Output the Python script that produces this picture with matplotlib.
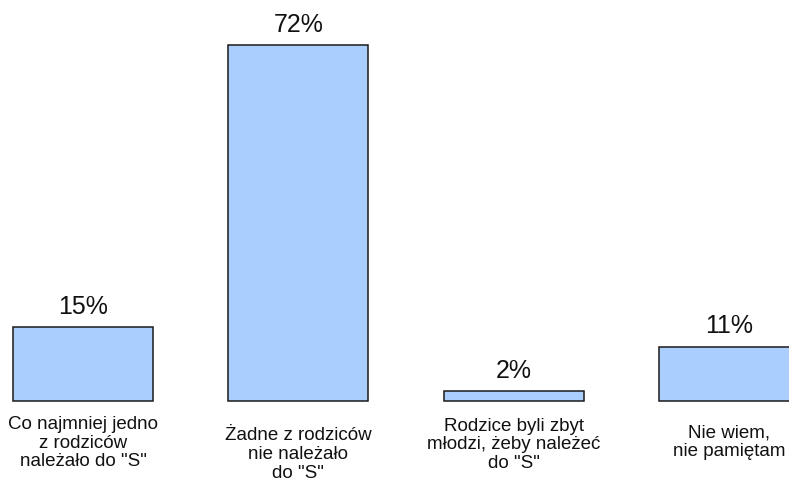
import numpy as np
import matplotlib.pyplot as plt
import matplotlib as mpl

mpl.rcParams["font.family"] = ["Liberation Sans", "DejaVu Sans"]

categories = ['Co najmniej jedno\nz rodziców\nnależało do "S"',
              'Żadne z rodziców\nnie należało\ndo "S"',
              'Rodzice byli zbyt\nmłodzi, żeby należeć\ndo "S"',
              'Nie wiem,\nnie pamiętam']
values = [15, 72, 2, 11]
value_labels = ['15%', '72%', '2%', '11%']

# vertical gap (points) between bar base and category label
label_pad = [11, 19, 12, 17]

fig = plt.figure(figsize=(7.89, 4.78), dpi=100)
ax = fig.add_axes([0, 77/478, 1, 356/478])

x = np.arange(len(values))
bars = ax.bar(x, values, width=0.65, color='#aacfff', edgecolor='#1a1a1a',
              linewidth=1.1, clip_on=False)

for xi, v, lab in zip(x, values, value_labels):
    ax.annotate(lab, xy=(xi, v), xytext=(0, 6), textcoords='offset points',
                ha='center', va='bottom', fontsize=18, color='#111111',
                annotation_clip=False)

for xi, cat, pad in zip(x, categories, label_pad):
    ax.annotate(cat, xy=(xi, 0), xytext=(0, -pad), textcoords='offset points',
                ha='center', va='top', fontsize=13.5, color='#111111',
                linespacing=1.12, annotation_clip=False)

ax.set_xlim(-83/215.3, (789-83)/215.3)
ax.set_ylim(0, 72)
ax.axis('off')

fig.savefig('out.png', dpi=100, facecolor='white')
